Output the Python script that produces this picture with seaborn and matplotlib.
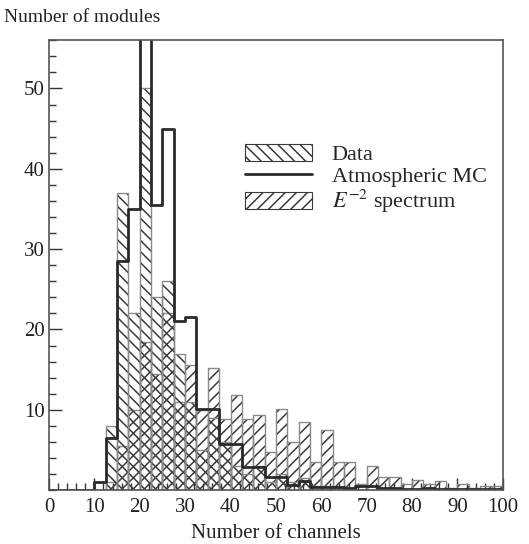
import numpy as np
import pandas as pd
import matplotlib
matplotlib.use("Agg")
import matplotlib.pyplot as plt
import seaborn as sns
from matplotlib.patches import Patch
from matplotlib.lines import Line2D
from matplotlib.ticker import MultipleLocator

# ---- data (bin width 2.5 channels, 0..100) ----
bin_width = 2.5
bin_range = (0, 100)
data_counts = [0, 0, 0, 0, 0, 8, 37, 22, 50, 24, 26, 17, 11, 5, 9, 6, 3, 2, 3, 1,
               2, 1, 1.5, 0.5, 0.5, 0.3, 0, 0, 0, 0, 0, 0, 0, 0, 0, 0, 0, 0, 0, 0]
mc_counts = [0, 0, 0, 0, 1, 6.5, 28.5, 35, 57, 35.5, 45, 21, 21.5, 10.1, 10.1, 5.8, 5.8, 2.9, 2.9, 1.65,
             1.65, 0.6, 1.2, 0.4, 0.4, 0.4, 0.3, 0.5, 0.5, 0.3, 0.3, 0.2, 0.2, 0.3, 0.2, 0.2, 0.2, 0.1, 0.1, 0.1]
e2_counts = [0, 0, 0, 0, 0, 1, 5.5, 10, 18.5, 14.5, 22, 11, 15.6, 10, 15.2, 8.8, 11.9, 8.8, 9.3, 4.8,
             10.1, 6.0, 8.5, 3.5, 7.5, 3.5, 3.5, 0.8, 3.0, 1.6, 1.65, 0.8, 1.3, 0.8, 1.1, 0.3, 0.8, 0.3, 0.5, 0.5]
x_ticks = [0, 10, 20, 30, 40, 50, 60, 70, 80, 90, 100]
y_ticks = [10, 20, 30, 40, 50]

centers = np.arange(bin_range[0] + bin_width / 2, bin_range[1], bin_width)
df = pd.DataFrame({"channels": centers, "data": data_counts, "mc": mc_counts, "e2": e2_counts})

sns.set_style("white")
plt.rcParams["font.family"] = ["Liberation Serif", "DejaVu Serif"]
plt.rcParams["mathtext.fontset"] = "stix"
plt.rcParams["hatch.linewidth"] = 1.1

fig = plt.figure(figsize=(5.29, 5.44), dpi=100)
ax = fig.add_axes([0.0926, 0.099, 0.858, 0.827])

HATCH_C = "#3a3a3a"
EDGE_C = "#8a8a8a"
common = dict(data=df, x="channels", binwidth=bin_width, binrange=bin_range, ax=ax)

# E^-2 spectrum (///)
sns.histplot(weights="e2", element="bars", fill=True, facecolor="none",
             edgecolor=HATCH_C, linewidth=0, hatch="///", **common)
sns.histplot(weights="e2", element="bars", fill=False, color=EDGE_C, linewidth=1.0, **common)
# Data (\\\)
sns.histplot(weights="data", element="bars", fill=True, facecolor="none",
             edgecolor=HATCH_C, linewidth=0, hatch="\\\\\\", **common)
sns.histplot(weights="data", element="bars", fill=False, color=EDGE_C, linewidth=1.0, **common)
# Atmospheric MC (thick step)
sns.histplot(weights="mc", element="step", fill=False, color="#2a2a2a", linewidth=2.0, **common)

ax.set_xlim(0, 100)
ax.set_ylim(0, 56)
ax.set_xticks(x_ticks)
ax.set_yticks(y_ticks)
ax.xaxis.set_minor_locator(MultipleLocator(2))
ax.yaxis.set_minor_locator(MultipleLocator(2))
ax.tick_params(axis="both", which="both", direction="in", labelsize=15, colors="#333",
               labelcolor="#222", bottom=True, left=True, top=False, right=False)
ax.tick_params(which="major", length=9, width=1.0)
ax.tick_params(which="minor", length=5, width=1.0)
ax.tick_params(axis="y", which="both", pad=3)
ax.tick_params(axis="x", which="both", pad=6)
for s in ax.spines.values():
    s.set_color("#555")
    s.set_linewidth(1.2)
ax.set_ylabel("")
ax.set_xlabel("Number of channels", fontsize=15, color="#222", labelpad=5)
fig.text(0.008, 0.967, "Number of modules", fontsize=14, color="#222", ha="left", va="center")

handles = [Patch(facecolor="white", edgecolor=HATCH_C, hatch="\\\\\\", linewidth=0.8),
           Line2D([0], [0], color="#2a2a2a", linewidth=2.0),
           Patch(facecolor="white", edgecolor=HATCH_C, hatch="///", linewidth=0.8)]
labels = ["Data", "Atmospheric MC", "$E^{-2}$ spectrum"]
ax.legend(handles, labels, loc="upper left", bbox_to_anchor=(0.412, 0.79), frameon=False,
          fontsize=16, handlelength=3.0, handleheight=0.8, handletextpad=0.9, labelspacing=0.05,
          borderaxespad=0)

fig.savefig("out.png", dpi=100)
